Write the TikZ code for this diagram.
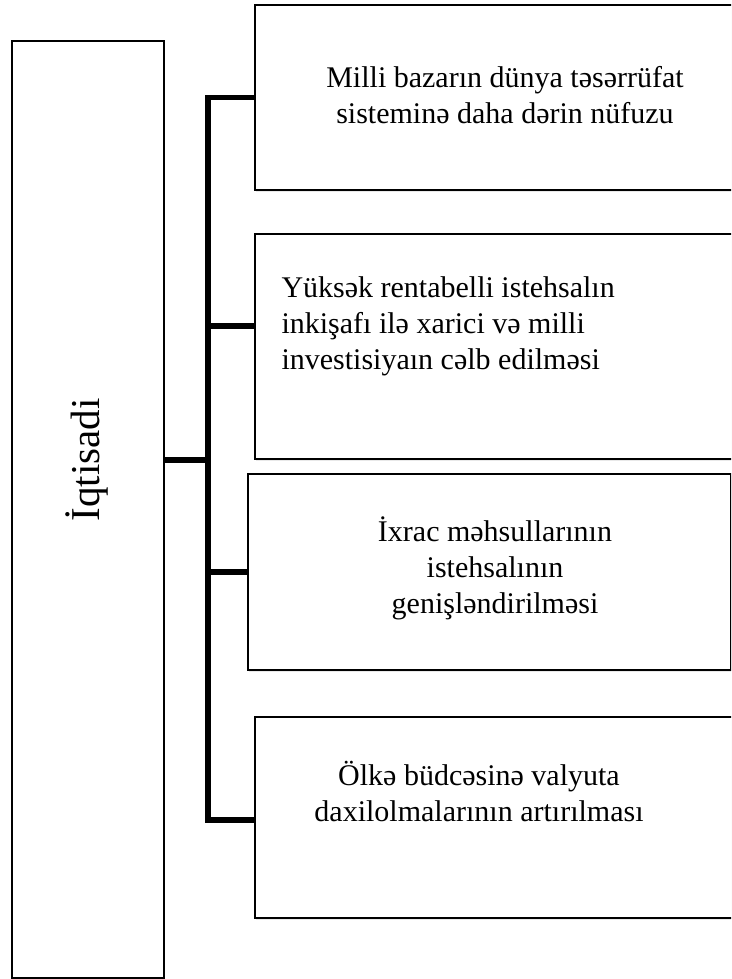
\documentclass[tikz,border=0pt]{standalone}
\usepackage{fontspec}
\setmainfont{Liberation Serif}
\usepackage{tikz}
\usetikzlibrary{positioning,calc,shadows}

\begin{document}
\begin{tikzpicture}[x=1pt, y=-1pt,
    box/.style={rectangle, draw, line width=1.8pt, fill=white, inner sep=0pt, anchor=north west,
        drop shadow={opacity=0.18, shadow xshift=1.5pt, shadow yshift=-2.5pt}},
    label/.style={align=center, font=\fontsize{30}{36}\selectfont},
    conn/.style={line width=5.5pt}
]
\useasboundingbox (0,0) rectangle (731,979);
\clip (0,0) rectangle (731,979);

% Boxes
\node[box, minimum width=152pt, minimum height=937pt] (main) at (11,40) {};
\node[box, minimum width=506pt, minimum height=185pt] (b1) at (254,4) {};
\node[box, minimum width=506pt, minimum height=225pt] (b2) at (254,233) {};
\node[box, minimum width=483pt, minimum height=196pt] (b3) at (247,473) {};
\node[box, minimum width=506pt, minimum height=201pt] (b4) at (254,716) {};

% Texts
\node[label, rotate=90, font=\fontsize{41}{46}\selectfont] (tmain) at (87,460) {İqtisadi};
\node[label] (t1) at (505,95) {Milli bazarın dünya təsərrüfat\\sisteminə daha dərin nüfuzu};
\node[label, align=left, anchor=west] (t2) at (278,326) {Yüksək rentabelli istehsalın\\inkişafı ilə xarici və milli\\investisiyaın cəlb edilməsi};
\node[label] (t3) at (495,568) {İxrac məhsullarının\\istehsalının\\genişləndirilməsi};
\node[label] (t4) at (479,791) {Ölkə büdcəsinə valyuta\\daxilolmalarının artırılması};

% Connectors
\coordinate (bus) at (208,460);
\draw[conn] (main.east |- bus) -- (bus);
\draw[conn] (bus) |- (b1.west);
\draw[conn] (bus) |- (b2.west |- t2);
\draw[conn] (bus) |- (b3.west);
\draw[conn] (bus) |- (b4.west |- 0,820);

\end{tikzpicture}
\end{document}
